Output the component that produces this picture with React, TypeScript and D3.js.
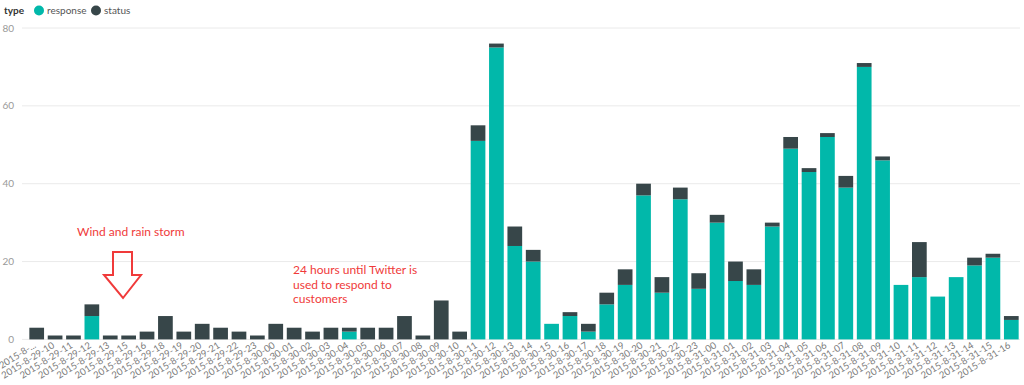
import * as d3 from 'd3'

const categories = [
  '2015-8-29-09', '2015-8-29-10', '2015-8-29-11', '2015-8-29-12', '2015-8-29-13', '2015-8-29-15',
  '2015-8-29-16', '2015-8-29-18', '2015-8-29-19', '2015-8-29-20', '2015-8-29-21', '2015-8-29-22',
  '2015-8-29-23', '2015-8-30-00', '2015-8-30-01', '2015-8-30-02', '2015-8-30-03', '2015-8-30-04',
  '2015-8-30-05', '2015-8-30-06', '2015-8-30-07', '2015-8-30-08', '2015-8-30-09', '2015-8-30-10',
  '2015-8-30-11', '2015-8-30-12', '2015-8-30-13', '2015-8-30-14', '2015-8-30-15', '2015-8-30-16',
  '2015-8-30-17', '2015-8-30-18', '2015-8-30-19', '2015-8-30-20', '2015-8-30-21', '2015-8-30-22',
  '2015-8-30-23', '2015-8-31-00', '2015-8-31-01', '2015-8-31-02', '2015-8-31-03', '2015-8-31-04',
  '2015-8-31-05', '2015-8-31-06', '2015-8-31-07', '2015-8-31-08', '2015-8-31-09', '2015-8-31-10',
  '2015-8-31-11', '2015-8-31-12', '2015-8-31-13', '2015-8-31-14', '2015-8-31-15', '2015-8-31-16',
]

const response = [
  0, 0, 0, 6, 0, 0, 0, 0, 0, 0, 0, 0,
  0, 0, 0, 0, 0, 2, 0, 0, 0, 0, 0, 0,
  51, 75, 24, 20, 4, 6, 2, 9, 14, 37, 12, 36,
  13, 30, 15, 14, 29, 49, 43, 52, 39, 70, 46, 14,
  16, 11, 16, 19, 21, 5,
]

const status = [
  3, 1, 1, 3, 1, 1, 2, 6, 2, 4, 3, 2,
  1, 4, 3, 2, 3, 1, 3, 3, 6, 1, 10, 2,
  4, 1, 5, 3, 0, 1, 2, 3, 4, 3, 4, 3,
  4, 2, 5, 4, 1, 3, 1, 1, 3, 1, 1, 0,
  9, 0, 0, 2, 1, 1,
]

const seriesNames = ['response', 'status']
const yTicks = [0, 20, 40, 60, 80]

const colors = { response: '#01B8AA', status: '#374649' }

const width = 1024
const height = 385
const font = 'Lato, "Noto Sans", sans-serif'

export default function App() {
  const rows = categories.map((c, i) => ({ cat: c, response: response[i], status: status[i] }))
  const stack = d3.stack<any>().keys(seriesNames)(rows)

  const x = d3.scaleBand().domain(categories).range([27.5, 1020.5]).paddingInner(0.2).paddingOuter(0.1)
  const y = d3.scaleLinear().domain([0, 80]).range([339.4, 28])

  // first label doesn't fit at the left edge
  const label = (c: string, i: number) => (i === 0 ? c.slice(0, 7) + '...' : c)

  return (
    <svg width={width} height={height} style={{ position: 'absolute', left: 0, top: 0, background: '#fff' }} fontFamily={font}>
      {/* legend */}
      <g fontSize={10}>
        <text x={4} y={14} fontWeight="bold" fill="#333">type</text>
        <circle cx={39} cy={10.5} r={5} fill={colors.response} />
        <text x={47} y={14} fill="#555">response</text>
        <circle cx={96} cy={10.5} r={5} fill={colors.status} />
        <text x={104} y={14} fill="#555">status</text>
      </g>

      {/* grid + y labels */}
      {yTicks.map(t => (
        <g key={t}>
          <line x1={22} x2={1020} y1={y(t)} y2={y(t)} stroke="#eaeaea" />
          <text x={14} y={y(t) + 3.5} textAnchor="end" fontSize={10} fill="#999">{t}</text>
        </g>
      ))}

      {/* bars */}
      {stack.map(s => (
        <g key={s.key} fill={colors[s.key as 'response' | 'status']}>
          {s.map((d, i) => (d[1] - d[0] > 0 ? (
            <rect key={i} x={x(categories[i])} width={x.bandwidth()} y={y(d[1])} height={y(d[0]) - y(d[1])} />
          ) : null))}
        </g>
      ))}

      {/* x labels */}
      <g fontSize={9.5} fill="#7a7a7a">
        {categories.map((c, i) => {
          const cx = (x(c) ?? 0) + x.bandwidth() / 2
          return (
            <text key={c} transform={`translate(${cx},347) rotate(-32)`} textAnchor="end">{label(c, i)}</text>
          )
        })}
      </g>

      {/* annotations */}
      <g fill="#f03a3a" fontSize={12}>
        <text x={77} y={236}>Wind and rain storm</text>
        <text x={293} y={274}>24 hours until Twitter is</text>
        <text x={293} y={288.5}>used to respond to</text>
        <text x={293} y={303}>customers</text>
      </g>
      <path d="M113,252 L132,252 L132,275 L141,275 L123,298 L104,275 L113,275 Z" fill="none" stroke="#f03a3a" strokeWidth={2} />
    </svg>
  )
}
